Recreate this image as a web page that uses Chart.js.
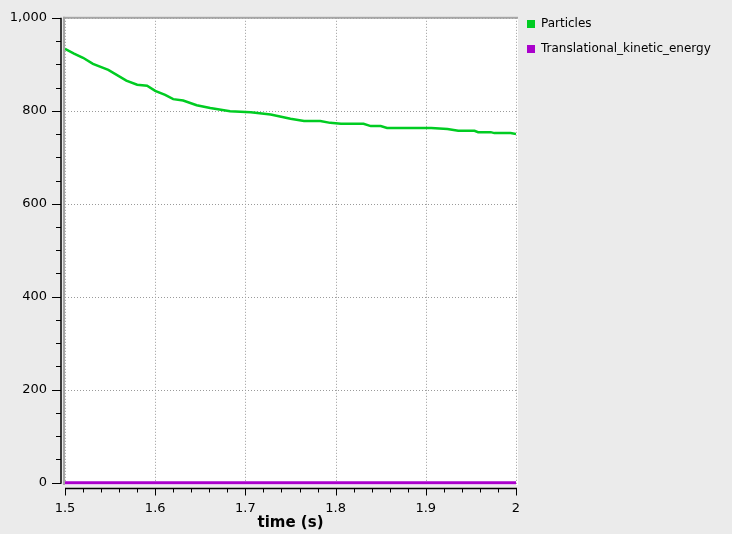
<!DOCTYPE html>
<html>
<head>
<meta charset="utf-8">
<script src="https://cdn.jsdelivr.net/npm/chart.js@4"></script>
<style>
  html, body { margin: 0; padding: 0; background: #ebebeb; }
  #wrap { width: 732px; height: 534px; }
</style>
</head>
<body>
<div id="wrap"><canvas id="chart" width="732" height="534"></canvas></div>
<script>
// data
const times = [1.5, 1.51, 1.52, 1.531, 1.548, 1.568, 1.58, 1.591, 1.6, 1.611, 1.62, 1.631, 1.646, 1.661, 1.683,
  1.706, 1.728, 1.75, 1.765, 1.783, 1.794, 1.806, 1.831, 1.839, 1.85, 1.857, 1.906, 1.924, 1.936, 1.954,
  1.958, 1.972, 1.976, 1.994, 2.0]
const particles = [933, 923, 914, 901, 888, 865, 856, 854, 843, 834, 825, 822, 812, 806, 799,
  797, 792, 783, 778, 778, 774, 772, 772, 767, 767, 763, 763, 761, 757, 757,
  754, 754, 752, 752, 750]
const kineticEnergy = times.map(() => 0)

const seriesLabels = ["Particles", "Translational_kinetic_energy"]
const seriesColors = ["#00cc22", "#aa00cc"]

const FONT = "'DejaVu Sans', sans-serif"

const toPoints = (xs, ys) => xs.map((x, i) => ({ x, y: ys[i] }))

// backgrounds, dotted grid, axis lines with major/minor ticks, legend
const decorations = {
  id: "decorations",
  beforeDraw(chart) {
    const { ctx, chartArea: a, scales: { x, y } } = chart
    ctx.save()
    ctx.fillStyle = "#ebebeb"
    ctx.fillRect(0, 0, chart.width, chart.height)
    ctx.fillStyle = "#ffffff"
    ctx.fillRect(a.left, a.top, a.right - a.left + 2, a.bottom - a.top)

    // dotted grid
    ctx.strokeStyle = "#9a9a9a"
    ctx.lineWidth = 1
    ctx.setLineDash([1, 2])
    x.ticks.forEach(t => {
      if (Math.abs(Math.round(t.value * 10) - t.value * 10) > 1e-6) return
      const px = Math.round(x.getPixelForValue(t.value)) + 0.5
      ctx.beginPath(); ctx.moveTo(px, a.top); ctx.lineTo(px, a.bottom); ctx.stroke()
    })
    y.ticks.forEach(t => {
      if (t.value % 200 !== 0) return
      const py = Math.round(y.getPixelForValue(t.value)) + 0.5
      ctx.beginPath(); ctx.moveTo(a.left, py); ctx.lineTo(a.right, py); ctx.stroke()
    })
    ctx.setLineDash([])

    // gray frame left + top
    ctx.fillStyle = "#a5a5a5"
    ctx.fillRect(a.left - 2, a.top - 1, 2, a.bottom - a.top + 1)
    ctx.fillRect(a.left - 2, a.top - 1, a.right - a.left + 4, 2)

    // y axis line + ticks
    ctx.strokeStyle = "#000000"
    ctx.lineWidth = 1.5
    const ax = a.left - 4
    ctx.beginPath(); ctx.moveTo(ax, a.top); ctx.lineTo(ax, y.getPixelForValue(0) + 1); ctx.stroke()
    ctx.lineWidth = 1
    y.ticks.forEach(t => {
      const py = Math.round(y.getPixelForValue(t.value)) + 0.5
      const len = t.value % 200 === 0 ? 9 : 5
      ctx.beginPath(); ctx.moveTo(ax - len, py); ctx.lineTo(ax, py); ctx.stroke()
    })

    // x axis line + ticks
    const ay = a.bottom + 3.5
    ctx.lineWidth = 1.5
    ctx.beginPath(); ctx.moveTo(x.getPixelForValue(1.5), ay); ctx.lineTo(x.getPixelForValue(2) + 1, ay); ctx.stroke()
    ctx.lineWidth = 1
    x.ticks.forEach(t => {
      const px = Math.round(x.getPixelForValue(t.value)) + 0.5
      const major = Math.abs(Math.round(t.value * 10) - t.value * 10) < 1e-6
      ctx.beginPath(); ctx.moveTo(px, ay); ctx.lineTo(px, ay + (major ? 7 : 4)); ctx.stroke()
    })
    ctx.restore()
  },
  afterDraw(chart) {
    const { ctx } = chart
    ctx.save()
    ctx.font = "12px " + FONT
    ctx.textBaseline = "middle"
    chart.data.datasets.forEach((ds, i) => {
      const cy = 24 + i * 25
      ctx.fillStyle = ds.borderColor
      ctx.fillRect(527, cy - 4, 8, 8)
      ctx.fillStyle = "#000000"
      ctx.fillText(ds.label, 541, cy)
    })
    ctx.restore()
  }
}

new Chart(document.getElementById("chart").getContext("2d"), {
  type: "line",
  data: {
    datasets: [
      { label: seriesLabels[0], data: toPoints(times, particles), borderColor: seriesColors[0], borderWidth: 2.5 },
      { label: seriesLabels[1], data: toPoints(times, kineticEnergy), borderColor: seriesColors[1], borderWidth: 3 }
    ]
  },
  options: {
    responsive: false,
    animation: false,
    layout: { padding: { top: 7, right: 216, left: 0, bottom: 0 } },
    elements: { point: { radius: 0 }, line: { tension: 0, fill: false } },
    plugins: { legend: { display: false }, tooltip: { enabled: false } },
    scales: {
      x: {
        type: "linear",
        min: 1.5,
        max: 2,
        afterFit: s => { s.height = 49 },
        afterBuildTicks: s => {
          s.ticks = []
          for (let i = 0; i <= 25; i++) s.ticks.push({ value: 1.5 + i * 0.02 })
        },
        grid: { display: false },
        border: { display: false },
        ticks: {
          autoSkip: false,
          maxRotation: 0,
          color: "#000000",
          font: { family: FONT, size: 13 },
          padding: 8,
          callback: v => {
            const r = Math.round(v * 10)
            return Math.abs(r - v * 10) < 1e-6 ? String(r / 10) : ""
          }
        },
        title: {
          display: true,
          text: "time (s)",
          color: "#000000",
          font: { family: FONT, size: 15, weight: "bold" },
          padding: { top: 0, bottom: 2 }
        }
      },
      y: {
        min: -5,
        max: 1000,
        afterFit: s => { s.width = 65 },
        afterBuildTicks: s => {
          s.ticks = []
          for (let v = 0; v <= 1000; v += 50) s.ticks.push({ value: v })
        },
        grid: { display: false },
        border: { display: false },
        ticks: {
          autoSkip: false,
          color: "#000000",
          font: { family: FONT, size: 13 },
          padding: 10,
          callback: v => v % 200 === 0 ? v.toLocaleString("en-US") : ""
        }
      }
    }
  },
  plugins: [decorations]
})
</script>
</body>
</html>
